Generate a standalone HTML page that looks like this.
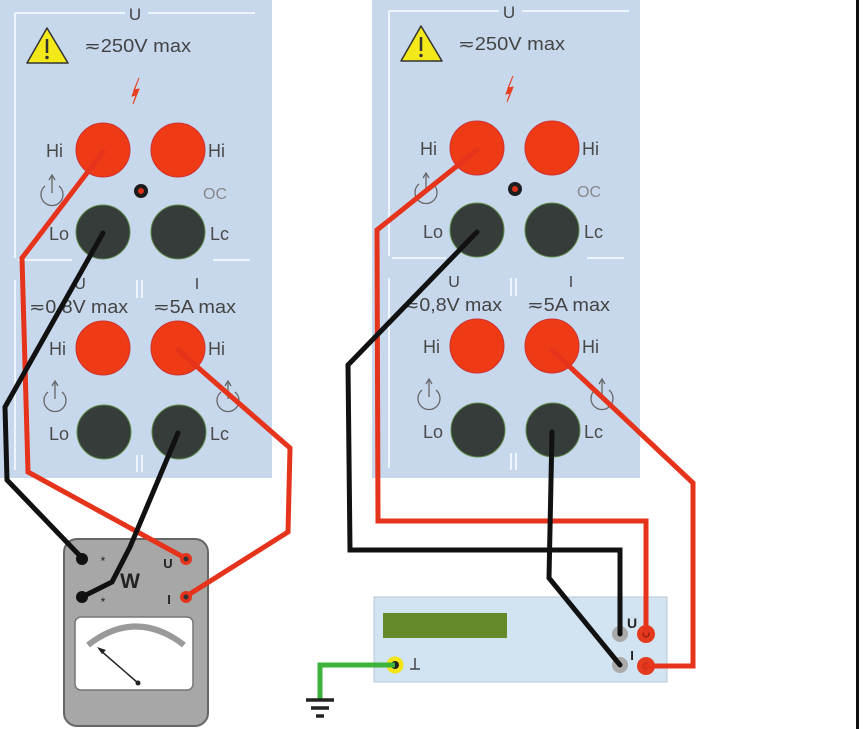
<!DOCTYPE html>
<html><head><meta charset="utf-8"><style>
html,body{margin:0;padding:0;background:#fff;}
svg{display:block;}
text{font-family:"Liberation Sans","DejaVu Sans",sans-serif;}
</style></head><body>
<svg width="863" height="729" viewBox="0 0 863 729" xmlns="http://www.w3.org/2000/svg">
<defs>
<g id="panel">
  <!-- frame lines -->
  <g stroke="#eef4fb" stroke-width="2" fill="none">
    <line x1="15" y1="13" x2="125" y2="13"/>
    <line x1="148" y1="13" x2="255" y2="13"/>
    <line x1="15" y1="13" x2="15" y2="258"/>
    <line x1="18" y1="260" x2="72" y2="260"/>
    <line x1="213" y1="260" x2="250" y2="260"/>
    <line x1="15" y1="280" x2="15" y2="470"/>
    <line x1="137" y1="280" x2="137" y2="298"/>
    <line x1="142" y1="280" x2="142" y2="298"/>
    <line x1="137" y1="455" x2="137" y2="472"/>
    <line x1="142" y1="455" x2="142" y2="472"/>
  </g>
  <!-- warning -->
  <polygon points="27,63 68,63 47,28" fill="#f3e81a" stroke="#333" stroke-width="1.5" stroke-linejoin="round"/>
  <line x1="47" y1="39" x2="47" y2="53" stroke="#333" stroke-width="2.5"/>
  <circle cx="47" cy="57.5" r="1.7" fill="#333"/>
  <text x="135" y="20" font-size="17" fill="#444" text-anchor="middle">U</text>
  <text x="84" y="52" font-size="18" fill="#444" textLength="107" lengthAdjust="spacingAndGlyphs">≂250V max</text>
  <!-- lightning -->
  <path d="M139,78 L134,90 L139,89 L133,104 L136,95 L132,96 Z" fill="#e8401e" stroke="#e8401e" stroke-width="1"/>
  <!-- upper jacks -->
  <circle cx="103" cy="150" r="27" fill="#ef3a16" stroke="#c33" stroke-width="1"/>
  <circle cx="178" cy="150" r="27" fill="#ef3a16" stroke="#c33" stroke-width="1"/>
  <circle cx="103" cy="232" r="27" fill="#363c39" stroke="#5d8a48" stroke-width="1"/>
  <circle cx="178" cy="232" r="27" fill="#363c39" stroke="#5d8a48" stroke-width="1"/>
  <circle cx="141" cy="191" r="7" fill="#1d1d1d"/>
  <circle cx="141" cy="191" r="3" fill="#d8301a"/>
  <text x="46" y="157" font-size="18" fill="#4a4a4a">Hi</text>
  <text x="208" y="157" font-size="18" fill="#4a4a4a">Hi</text>
  <text x="203" y="199" font-size="16" fill="#888">OC</text>
  <text x="49" y="240" font-size="18" fill="#4a4a4a">Lo</text>
  <text x="210" y="240" font-size="18" fill="#4a4a4a">Lc</text>
  <!-- lower section -->
  <text x="80" y="289" font-size="16" fill="#444" text-anchor="middle">U</text>
  <text x="197" y="289" font-size="16" fill="#444" text-anchor="middle">I</text>
  <text x="29" y="313" font-size="18" fill="#444" textLength="99" lengthAdjust="spacingAndGlyphs">≂0,8V max</text>
  <text x="153" y="313" font-size="18" fill="#444" textLength="83" lengthAdjust="spacingAndGlyphs">≂5A max</text>
  <circle cx="103" cy="348" r="27" fill="#ef3a16" stroke="#c33" stroke-width="1"/>
  <circle cx="178" cy="348" r="27" fill="#ef3a16" stroke="#c33" stroke-width="1"/>
  <circle cx="104" cy="432" r="27" fill="#363c39" stroke="#5d8a48" stroke-width="1"/>
  <circle cx="179" cy="432" r="27" fill="#363c39" stroke="#5d8a48" stroke-width="1"/>
  <text x="49" y="355" font-size="18" fill="#4a4a4a">Hi</text>
  <text x="208" y="355" font-size="18" fill="#4a4a4a">Hi</text>
  <text x="49" y="440" font-size="18" fill="#4a4a4a">Lo</text>
  <text x="210" y="440" font-size="18" fill="#4a4a4a">Lc</text>
  <!-- power symbols -->
  <g fill="none" stroke="#666" stroke-width="1.3">
    <path d="M45,186 A11,11 0 1 0 59,186"/>
    <line x1="52" y1="176" x2="52" y2="193"/>
    <path d="M49,180 L52,175 L55,180"/>
    <path d="M48,392 A11,11 0 1 0 62,392"/>
    <line x1="55" y1="382" x2="55" y2="399"/>
    <path d="M52,386 L55,381 L58,386"/>
    <path d="M221,392 A11,11 0 1 0 235,392"/>
    <line x1="228" y1="382" x2="228" y2="399"/>
    <path d="M225,386 L228,381 L231,386"/>
  </g>
</g>
</defs>

<!-- panels -->
<rect x="0" y="0" width="272" height="478" fill="#c8d8ec"/>
<rect x="372" y="0" width="268" height="478" fill="#c8d8ec"/>
<use href="#panel"/>
<use href="#panel" transform="translate(374,-2)"/>

<!-- right border line -->
<rect x="856" y="0" width="3" height="729" fill="#111"/>

<!-- wattmeter -->
<rect x="64" y="539" width="144" height="187" rx="13" fill="#a7a7a7" stroke="#666" stroke-width="2"/>
<rect x="75" y="617" width="118" height="73" rx="6" fill="#fff" stroke="#777" stroke-width="1.5"/>
<path d="M88,645 Q136,608 184,645" fill="none" stroke="#9a9a9a" stroke-width="6"/>
<line x1="100" y1="650" x2="138" y2="683" stroke="#222" stroke-width="1.5"/>
<path d="M97,647 L106,650 L102,654 Z" fill="#222"/>
<circle cx="138" cy="683" r="2.5" fill="#222"/>
<text x="130" y="588" font-size="21" font-weight="bold" fill="#222" text-anchor="middle">W</text>
<text x="103" y="565" font-size="12" fill="#222" text-anchor="middle">*</text>
<text x="103" y="606" font-size="12" fill="#222" text-anchor="middle">*</text>
<text x="168" y="568" font-size="13" font-weight="bold" fill="#222" text-anchor="middle">U</text>
<text x="169" y="604" font-size="13" font-weight="bold" fill="#222" text-anchor="middle">I</text>

<!-- meter box right -->
<rect x="374" y="597" width="293" height="85" fill="#d2e3f1" stroke="#b5c7d5" stroke-width="1"/>
<rect x="383" y="613" width="124" height="25" fill="#658a2c"/>
<circle cx="395" cy="665" r="8.5" fill="#f3e515"/>
<circle cx="395" cy="665" r="4" fill="#222"/>
<g stroke="#444" stroke-width="1.5">
  <line x1="415" y1="658" x2="415" y2="669"/>
  <line x1="410" y1="669" x2="420" y2="669"/>
</g>
<text x="632" y="628" font-size="14" font-weight="bold" fill="#222" text-anchor="middle">U</text>
<text x="632" y="660" font-size="13" font-weight="bold" fill="#222" text-anchor="middle">I</text>
<circle cx="620" cy="634" r="8" fill="#aaa"/>
<circle cx="620" cy="665" r="8" fill="#aaa"/>
<circle cx="646" cy="634" r="9" fill="#e53a1e"/>
<circle cx="646" cy="666" r="9" fill="#e53a1e"/>
<circle cx="646" cy="634" r="3.5" fill="#7a1a10"/>
<circle cx="646" cy="666" r="3.5" fill="#b8301a"/>

<!-- green ground wire -->
<polyline points="395,665 320,665 320,700" fill="none" stroke="#3db33a" stroke-width="5" stroke-linejoin="miter"/>
<g stroke="#222" stroke-width="3.5">
  <line x1="306" y1="700" x2="334" y2="700"/>
  <line x1="311" y1="708" x2="329" y2="708"/>
  <line x1="316" y1="716" x2="324" y2="716"/>
</g>

<!-- wires left -->
<g fill="none" stroke-width="5" stroke-linejoin="miter" stroke-linecap="round">
  <polyline points="103,152 22,258 28,472 185,558" stroke="#e5331c"/>
  <polyline points="178,350 290,448 288,532 185,597" stroke="#e5331c"/>
  <polyline points="103,233 5,407 7,480 82,558" stroke="#111"/>
  <polyline points="178,433 130,547 112,582 82,597" stroke="#111"/>
</g>
<!-- wattmeter terminals -->
<circle cx="82" cy="559" r="6" fill="#111"/>
<circle cx="82" cy="597" r="6" fill="#111"/>
<circle cx="186" cy="559" r="6" fill="#e5331c"/>
<circle cx="186" cy="559" r="2.5" fill="#333"/>
<circle cx="186" cy="597" r="6" fill="#e5331c"/>
<circle cx="186" cy="597" r="2.5" fill="#333"/>

<!-- wires right -->
<g fill="none" stroke-width="5" stroke-linejoin="miter" stroke-linecap="round">
  <polyline points="477,150 377,230 378,521 646,521 646,634" stroke="#e5331c"/>
  <polyline points="552,350 693,483 693,666 646,666" stroke="#e5331c"/>
  <polyline points="477,232 348,365 350,550 620,550 620,634" stroke="#111"/>
  <polyline points="552,432 549,578 620,665" stroke="#111"/>
</g>
</svg>
</body></html>
